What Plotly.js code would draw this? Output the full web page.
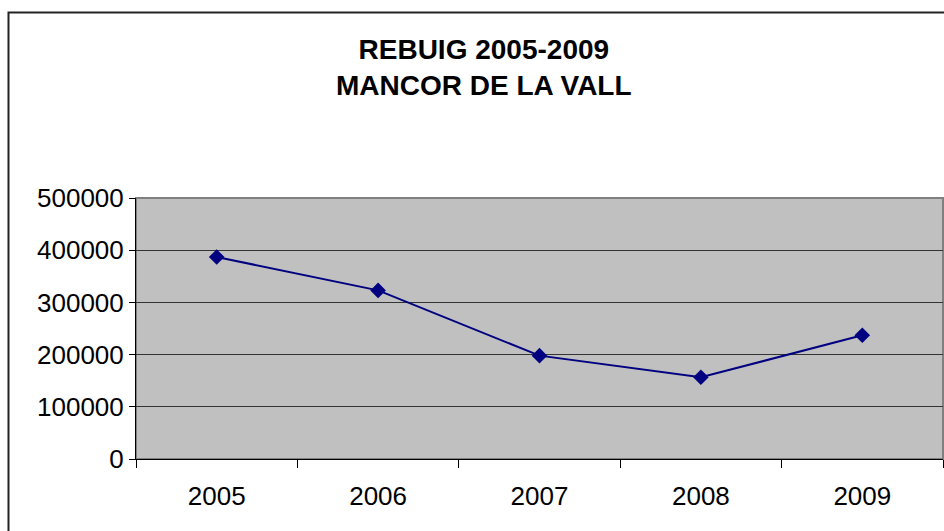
<!DOCTYPE html>
<html>
<head>
<meta charset="utf-8">
<script src="https://cdn.plot.ly/plotly-3.0.1.min.js"></script>
<style>
  body { margin: 0; background: #fff; }
  #chart { width: 944px; height: 531px; }
</style>
</head>
<body>
<div id="chart"></div>
<script>
// REBUIG (kg) per year, Mancor de la Vall
var years = ['2005', '2006', '2007', '2008', '2009'];
var rebuig = [387000, 323000, 198000, 156500, 237000];
var yTicks = [0, 100000, 200000, 300000, 400000, 500000];

function display_chart(divName) {
    var trace = {
        x: years,
        y: rebuig,
        type: 'scatter',
        mode: 'lines+markers',
        line: {color: '#000080', width: 2},
        marker: {symbol: 'diamond', size: 12, color: '#000080'},
        hoverinfo: 'x+y'
    };

    var layout = {
        width: 944,
        height: 531,
        margin: {l: 136, r: 1, t: 198, b: 72},
        paper_bgcolor: '#ffffff',
        plot_bgcolor: '#c0c0c0',
        showlegend: false,
        font: {family: 'Liberation Sans, Arial, sans-serif', color: '#000'},
        title: {
            text: '<b>REBUIG 2005-2009<br>MANCOR DE LA VALL</b>',
            font: {size: 28, color: '#000'},
            xref: 'paper', x: 0.431, xanchor: 'center',
            yref: 'container', y: 0.889, yanchor: 'middle'
        },
        xaxis: {
            type: 'category',
            range: [-0.5, 4.5],
            tickson: 'boundaries',
            ticks: 'outside', ticklen: 8, tickcolor: '#000', tickwidth: 1,
            ticklabelstandoff: 14,
            showline: true, linecolor: '#000', linewidth: 1,
            showgrid: false,
            tickfont: {size: 26},
            fixedrange: true
        },
        yaxis: {
            range: [0, 500000],
            tickvals: yTicks,
            tickformat: 'd',
            ticks: 'outside', ticklen: 6, tickcolor: '#000', tickwidth: 1,
            showline: true, linecolor: '#000', linewidth: 1,
            showgrid: true, gridcolor: '#333', gridwidth: 1,
            zeroline: false,
            tickfont: {size: 26},
            fixedrange: true
        },
        shapes: [
            // outer chart frame (runs off the right and bottom of the picture)
            {type: 'rect', xref: 'paper', yref: 'paper',
             x0: -0.158, x1: 1.2, y0: 1.711, y1: -0.6,
             line: {color: '#222', width: 2}, layer: 'below'},
            // grey plot area border
            {type: 'rect', xref: 'paper', yref: 'paper',
             x0: 0, x1: 1, y0: 0, y1: 1,
             line: {color: '#808080', width: 2}, layer: 'below'}
        ]
    };

    Plotly.newPlot(divName, [trace], layout, {displayModeBar: false, staticPlot: true});
}

display_chart('chart');
</script>
</body>
</html>
